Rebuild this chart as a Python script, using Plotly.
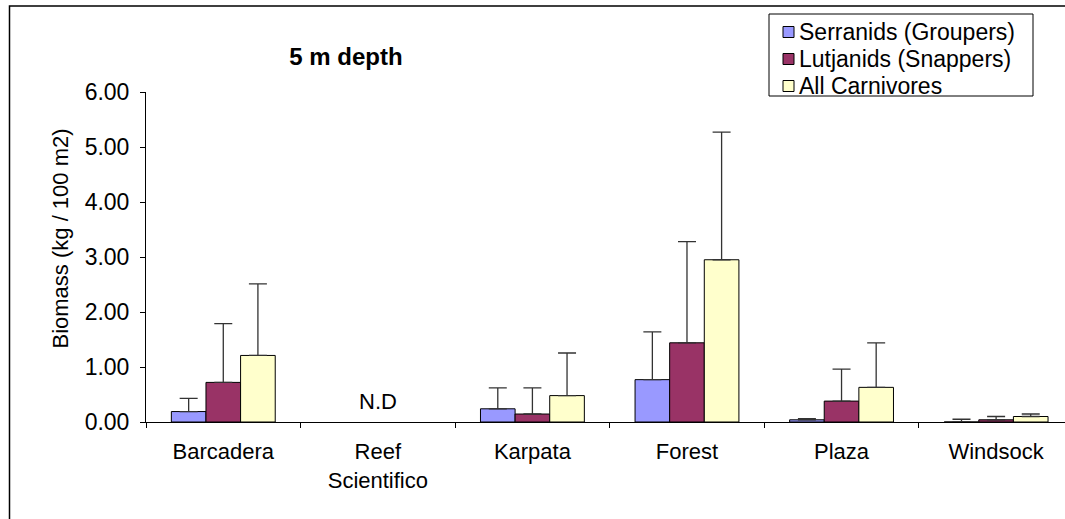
import plotly.graph_objects as go

# ---- data ----
categories = ["Barcadera", "Reef<br>Scientifico", "Karpata", "Forest", "Plaza", "Windsock"]
series_names = ["Serranids (Groupers)", "Lutjanids (Snappers)", "All Carnivores"]

serranids = [0.19, None, 0.24, 0.77, 0.04, 0.00]
serranids_err = [0.24, None, 0.38, 0.87, 0.02, 0.05]

lutjanids = [0.72, None, 0.145, 1.44, 0.38, 0.04]
lutjanids_err = [1.07, None, 0.475, 1.84, 0.58, 0.06]

carnivores = [1.21, None, 0.48, 2.95, 0.63, 0.10]
carnivores_err = [1.30, None, 0.775, 2.32, 0.81, 0.045]

y_ticks = [0, 1, 2, 3, 4, 5, 6]

colors = ["#9999FF", "#993366", "#FFFFCC"]
FONT = "Liberation Sans, Arial, sans-serif"
FS = 22

fig = go.Figure()
for name, vals, errs, col in zip(series_names,
                                  [serranids, lutjanids, carnivores],
                                  [serranids_err, lutjanids_err, carnivores_err],
                                  colors):
    fig.add_trace(go.Bar(
        x=categories, y=vals, name=name, showlegend=False,
        marker=dict(color=col, line=dict(color="black", width=1)),
        error_y=dict(type="data", array=errs, symmetric=False,
                     arrayminus=[0] * len(errs),
                     color="#333333", thickness=1.3, width=9),
    ))

# layout geometry (pixels)
W, H = 1065, 519
L, R, T, B = 146, 0, 92, 97
pw = W - L - R
ph = H - T - B

def px_x(x):
    return (x - L) / pw

def px_y(y):
    return (H - B - y) / ph

fig.update_layout(
    width=W, height=H,
    margin=dict(l=L, r=R, t=T, b=B),
    paper_bgcolor="white", plot_bgcolor="white",
    font=dict(family=FONT, size=FS, color="black"),
    barmode="group", bargap=0.328, bargroupgap=0,
    title=dict(text="<b>5 m depth</b>", x=346 / W, y=1 - 57 / H,
               xanchor="center", yanchor="middle",
               font=dict(family=FONT, size=24, color="black")),
    showlegend=False,
)

fig.update_xaxes(
    type="category", tickson="boundaries",
    range=[-0.5, 5.5 - 8.4 / 154.7],
    showline=True, linecolor="black", linewidth=1,
    ticks="outside", ticklen=5, tickcolor="black",
    showgrid=False, zeroline=False, ticklabelstandoff=10,
    tickfont=dict(size=22),
)
fig.update_yaxes(
    range=[0, 6], tickvals=y_ticks, tickformat=".2f",
    showline=True, linecolor="black", linewidth=1,
    ticks="outside", ticklen=5, tickcolor="black",
    showgrid=False, zeroline=False, ticklabelstandoff=6,
    tickfont=dict(size=23),
)

# y-axis title
fig.add_annotation(text="Biomass (kg / 100 m2)", xref="paper", yref="paper",
                   x=px_x(60), y=px_y(238.5), textangle=-90, showarrow=False,
                   xanchor="center", yanchor="middle",
                   font=dict(family=FONT, size=FS, color="black"))
# N.D label
fig.add_annotation(text="N.D", x=categories[1], y=0.38, xref="x", yref="y",
                   showarrow=False, font=dict(family=FONT, size=FS, color="black"))

# legend box (drawn to match the reference layout)
fig.add_shape(type="rect", xref="paper", yref="paper",
              x0=px_x(769), x1=px_x(1033), y0=px_y(14), y1=px_y(96),
              line=dict(color="black", width=1), fillcolor="white")
row_centers = [32, 59, 86]
for name, col, yc in zip(series_names, colors, row_centers):
    fig.add_shape(type="rect", xref="paper", yref="paper",
                  x0=px_x(783), x1=px_x(794), y0=px_y(yc - 5.5), y1=px_y(yc + 5.5),
                  line=dict(color="black", width=1), fillcolor=col)
    fig.add_annotation(text=name, xref="paper", yref="paper",
                       x=px_x(797), y=px_y(yc), xanchor="left", yanchor="middle",
                       showarrow=False,
                       font=dict(family=FONT, size=23, color="black"))

# outer chart frame (top & left visible, rest cut off)
fig.add_shape(type="rect", xref="paper", yref="paper",
              x0=px_x(9.5), x1=px_x(W + 20), y0=px_y(6), y1=px_y(H + 20),
              line=dict(color="black", width=1.5), fillcolor="rgba(0,0,0,0)")

fig.write_html("out.html", config={"displayModeBar": False},
               post_script="document.body.style.margin='0';")
